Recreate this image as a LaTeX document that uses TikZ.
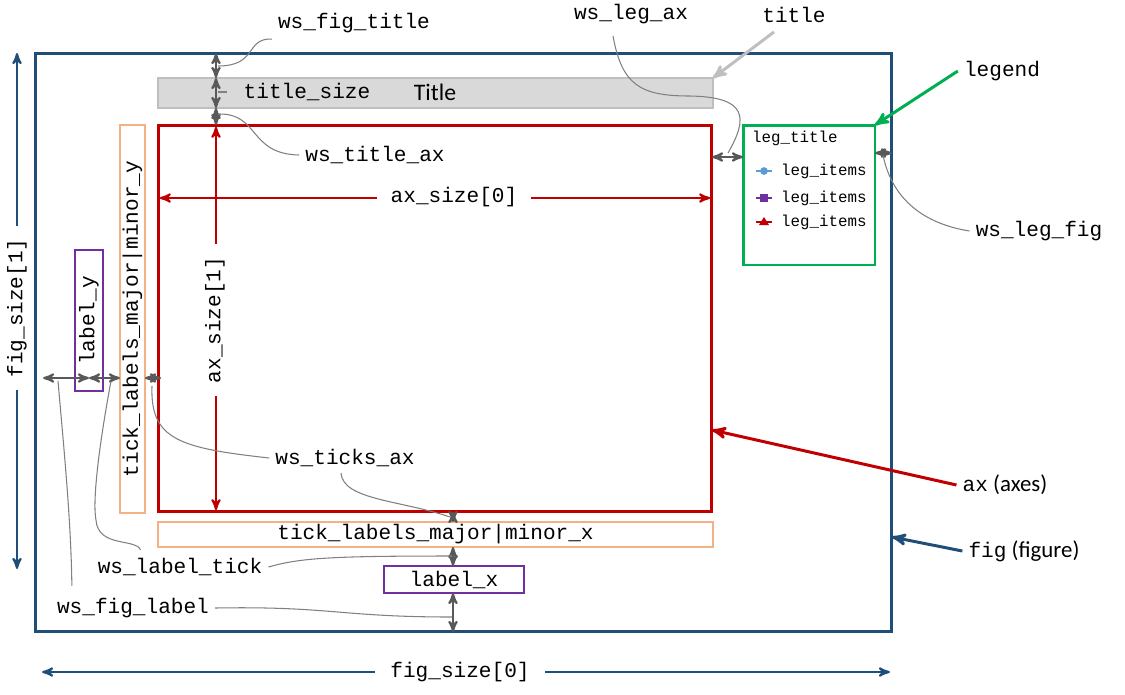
\documentclass[tikz,border=0pt]{standalone}
\usepackage{fontspec}
\setmonofont{Liberation Mono}
\newfontfamily\calfont{Carlito}
\usepackage{tikz}
\usetikzlibrary{arrows,positioning,calc}
\definecolor{figblue}{HTML}{1F4E79}
\definecolor{axred}{HTML}{C00000}
\definecolor{leggreen}{HTML}{00B050}
\definecolor{tickorange}{HTML}{F4B183}
\definecolor{labpurple}{HTML}{7030A0}
\definecolor{dimgrey}{HTML}{595959}
\definecolor{leadgrey}{HTML}{808080}
\definecolor{titlegrey}{HTML}{D9D9D9}
\definecolor{callgrey}{HTML}{BFBFBF}
\definecolor{itemblue}{HTML}{5B9BD5}

\begin{document}
\begin{tikzpicture}[x=0.02cm, y=-0.02cm, >=stealth', font=\ttfamily\fontsize{12}{14}\selectfont]
	\tikzstyle{frame}=[draw, line width=1.7pt, inner sep=0pt, outer sep=0pt]
	\tikzstyle{dimarr}=[<->, dimgrey, line width=1.2pt]
	\tikzstyle{sizearr}=[<->, line width=1.2pt]
	\tikzstyle{leader}=[-, leadgrey, line width=0.6pt]
	\tikzstyle{callout}=[->, line width=1.7pt]
	\tikzstyle{small}=[font=\ttfamily\fontsize{9}{11}\selectfont]
	\useasboundingbox (0,0) rectangle (1125,694);

	\node[frame, draw=figblue, minimum width=17.14cm, minimum height=11.58cm] (F) at (463.5,342.5) {};
	\node[frame, draw=callgrey, line width=0.8pt, fill=titlegrey, minimum width=11.1cm, minimum height=0.6cm] (T) at (435.5,93) {};
	\node[frame, draw=axred, minimum width=11.08cm, minimum height=7.74cm] (AX) at (435,318.5) {};
	\node[frame, draw=leggreen, minimum width=2.64cm, minimum height=2.8cm] (L) at (809,195) {};
	\node[frame, draw=tickorange, line width=1.6pt, rotate=90, minimum width=7.76cm, minimum height=0.5cm] (TY) at (132.5,319) {tick\_labels\_major|minor\_y};
	\node[frame, draw=labpurple, line width=1.6pt, rotate=90, minimum width=2.82cm, minimum height=0.56cm] (LY) at (89,320.5) {label\_y};
	\node[frame, draw=tickorange, line width=1.6pt, minimum width=11.1cm, minimum height=0.5cm] (TX) at (435.5,534.5) {tick\_labels\_major|minor\_x};
	\node[frame, draw=labpurple, line width=1.6pt, minimum width=2.8cm, minimum height=0.54cm] (LX) at (454,579.5) {label\_x};

	\node[small, anchor=west] (LT) at (746,138) {leg\_title};
	\node[small, anchor=west] (I1) at (775,171) {leg\_items};
	\node[small, anchor=west] (I2) at (775,198) {leg\_items};
	\node[small, anchor=west] (I3) at (775,222) {leg\_items};
	\draw[itemblue, line width=1.2pt] (756,171) -- (772,171);
	\fill[itemblue] (764,171) circle (2.2pt);
	\draw[labpurple, line width=1.2pt] (756,198) -- (772,198);
	\fill[labpurple] (760,194) rectangle (768,202);
	\draw[axred, line width=1.2pt] (756,222) -- (772,222);
	\fill[axred] (759,225) -- (769,225) -- (764,217) -- cycle;

	\coordinate (xa) at (216,0);
	\coordinate (xb) at (453,0);
	\coordinate (xf) at (17,0);
	\coordinate (ya) at (0,157);
	\coordinate (yb) at (0,153);
	\coordinate (yc) at (0,378);
	\coordinate (yd) at (0,198);
	\coordinate (yf) at (0,672);
	\coordinate (yg) at (0,430);
	\coordinate (yh) at (0,537);
	\coordinate (fs1) at (17,569);
	\coordinate (m1) at (218,66);
	\coordinate (m2) at (218,92);
	\coordinate (m3) at (218,114);
	\coordinate (m4) at (728,153);
	\coordinate (m5) at (883,155);
	\coordinate (m6) at (58,381);
	\coordinate (m7) at (111,381);
	\coordinate (m8) at (152,386);
	\coordinate (m9) at (450,517);
	\coordinate (m10) at (452,556);
	\coordinate (m11) at (452,617);

	\path
	(F.north -| xa) edge[dimarr] (T.north -| xa)
	(T.north -| xa) edge[dimarr] (T.south -| xa)
	(T.south -| xa) edge[dimarr] (AX.north -| xa)
	(AX.east |- ya) edge[dimarr] (L.west |- ya)
	(L.east |- yb) edge[dimarr] (F.east |- yb)
	(F.west |- yc) edge[dimarr, shorten <=0.16cm] (LY.west |- yc)
	(LY.east |- yc) edge[dimarr] (TY.north |- yc)
	(TY.south |- yc) edge[dimarr, shorten >=-0.06cm] (AX.west |- yc)
	(AX.south -| xb) edge[dimarr] (TX.north -| xb)
	(TX.south -| xb) edge[dimarr] (LX.north -| xb)
	(LX.south -| xb) edge[dimarr] (F.south -| xb);

	\draw[sizearr, axred, shorten <=1pt, shorten >=1pt] (AX.west |- yd) -- (AX.east |- yd);
	\draw[sizearr, axred, shorten <=1pt, shorten >=1pt] (AX.north -| xa) -- (AX.south -| xa);
	\draw[sizearr, figblue] (xf |- F.north) -- (fs1);
	\draw[sizearr, figblue, shorten <=0.14cm, shorten >=0.04cm] (F.west |- yf) -- (F.east |- yf);
	\node[fill=white, inner xsep=8pt] (AS0) at (454,197) {ax\_size[0]};
	\node[fill=white, rotate=90, inner xsep=7pt] (AS1) at (215,320) {ax\_size[1]};
	\node[fill=white, rotate=90, inner xsep=7pt] (FS1) at (17,308) {fig\_size[1]};
	\node[fill=white, inner xsep=9pt] (FS0) at (460,672) {fig\_size[0]};

	\node (TSZ) at (307,92) {title\_size};
	\node[font=\calfont\fontsize{13.5}{16}\selectfont] (TTL) at (435,92) {Title};
	\node (WFT) at (354,23) {ws\_fig\_title};
	\node (WLA) at (631,14) {ws\_leg\_ax};
	\node (TT) at (794,15) {title};
	\node (LG) at (1002,71) {legend};
	\node (WTA) at (375,155) {ws\_title\_ax};
	\node (WLF) at (1039,231) {ws\_leg\_fig};
	\node (WTI) at (345,458) {ws\_ticks\_ax};
	\node (WLT) at (180,567) {ws\_label\_tick};
	\node (WFL) at (133,608) {ws\_fig\_label};
	\node (AXL) at (1005,485) {ax{\calfont\fontsize{13}{15}\selectfont\ (axes)}};
	\node (FGL) at (1024,551) {fig{\calfont\fontsize{13}{15}\selectfont\ (figure)}};

	\draw[leader] (m1) .. controls (258,66) and (245,38) .. (WFT.south west);
	\draw[leader, shorten >=6pt] (m2) -- (TSZ.west);
	\draw[leader] (m3) .. controls (260,113) and (248,154) .. (WTA.west);
	\draw[leader] ($(WLA.south)+(-18,6)$) .. controls (622,85) and (640,96) .. (690,96) .. controls (748,97) and (748,118) .. (m4);
	\draw[leader] (m5) .. controls (892,200) and (925,224) .. (WLF.west);
	\draw[leader] (m6) .. controls (64,450) and (71,520) .. ($(WFL.north west)+(21,-6)$);
	\draw[leader] (WFL.east) .. controls (330,606) and (340,617) .. (m11);
	\draw[leader] (m7) .. controls (100,440) and (92,500) .. (96,520) .. controls (98,548) and (136,538) .. ($(WLT.north west)+(49,-2)$);
	\draw[leader] (WLT.east) .. controls (300,558) and (330,556) .. (m10);
	\draw[leader] (m8) .. controls (150,440) and (180,448) .. (WTI.west);
	\draw[leader] ($(WTI.south)+(-4,0)$) .. controls (343,500) and (400,500) .. (m9);

	\path
	($(TT.south)+(-20,3)$) edge[callout, callgrey] (T.north east)
	(LG.west) edge[callout, leggreen] (L.north east)
	(AXL.west) edge[callout, axred] (AX.east |- yg)
	(FGL.west) edge[callout, figblue] (F.east |- yh);

\end{tikzpicture}
\end{document}
